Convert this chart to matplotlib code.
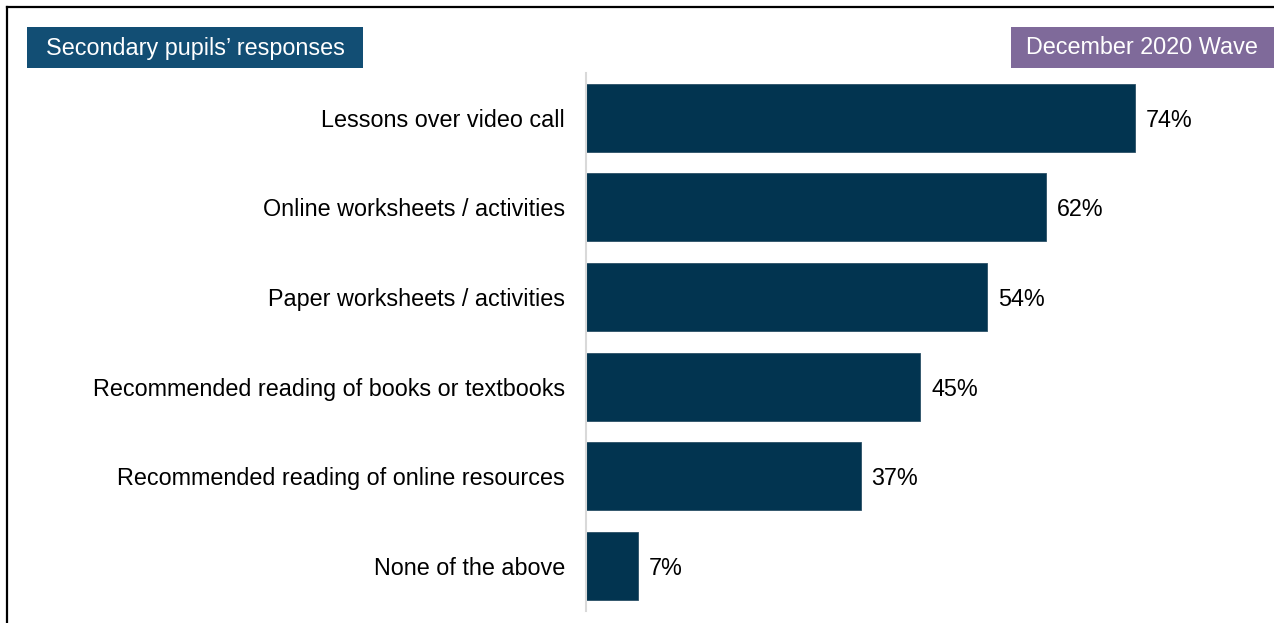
import matplotlib
matplotlib.use("Agg")
import matplotlib.pyplot as plt
from matplotlib.lines import Line2D
from matplotlib.patches import Rectangle

plt.rcParams["font.family"] = ["Liberation Sans", "DejaVu Sans"]

categories = [
    "Lessons over video call",
    "Online worksheets / activities",
    "Paper worksheets / activities",
    "Recommended reading of books or textbooks",
    "Recommended reading of online resources",
    "None of the above",
]
values = [74, 62, 54, 45, 37, 7]

left_tag = "Secondary pupils\u2019 responses"
right_tag = "December 2020 Wave"

W, H = 1274, 623
FS = 16.8
fig = plt.figure(figsize=(W / 100, H / 100), dpi=100)
fig.patch.set_facecolor("white")

def px(x0, y0, x1, y1):
    # convert pixel box (top-left origin) to figure fraction rect
    return [x0 / W, 1 - y1 / H, (x1 - x0) / W, (y1 - y0) / H]

xmax = 80
ax = fig.add_axes(px(586, 73, 586 + xmax * 7.42, 610.5))
pos = list(range(len(categories)))
ax.barh(pos, values, height=0.76, color="#023450", edgecolor="#2a4f66", linewidth=0.6)
ax.set_ylim(len(categories) - 0.5, -0.5)
ax.set_xlim(0, xmax)
ax.set_yticks(pos)
ax.set_yticklabels(categories, fontsize=FS, color="black")
ax.tick_params(axis="y", length=0, pad=15)
ax.set_xticks([])
for s in ["top", "right", "bottom"]:
    ax.spines[s].set_visible(False)
ax.spines["left"].set_color("#d9d9d9")
ax.spines["left"].set_linewidth(1.5)
ax.set_facecolor("none")

for p, v in zip(pos, values):
    ax.annotate(f"{v}%", xy=(v, p), xytext=(8, 0), textcoords="offset points",
                va="center_baseline", ha="left", fontsize=FS, color="black")

# header tags
fig.patches.append(Rectangle((27 / W, 1 - 68 / H), (363 - 27) / W, 41 / H,
                             transform=fig.transFigure, facecolor="#124e74",
                             edgecolor="none"))
fig.text(195 / W, 1 - 48 / H, left_tag, color="white", fontsize=FS,
         ha="center", va="center")
fig.patches.append(Rectangle((1011 / W, 1 - 68 / H), (1274 - 1011) / W, 41 / H,
                             transform=fig.transFigure, facecolor="#7f6a9a",
                             edgecolor="none"))
fig.text(1142 / W, 1 - 48 / H, right_tag, color="white", fontsize=FS,
         ha="center", va="center")

# frame lines along top and left
fig.add_artist(Line2D([7 / W, 7 / W], [0, 1 - 7 / H], transform=fig.transFigure,
                      color="black", linewidth=1.6))
fig.add_artist(Line2D([7 / W, 1], [1 - 7 / H, 1 - 7 / H], transform=fig.transFigure,
                      color="black", linewidth=1.6))

fig.savefig("out.png", dpi=100)
